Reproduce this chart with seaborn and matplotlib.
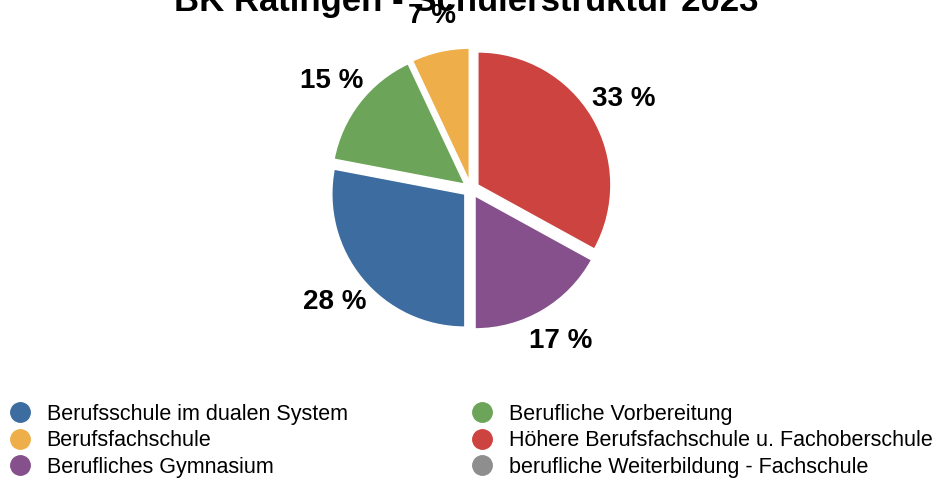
import matplotlib
matplotlib.use("Agg")
import matplotlib.pyplot as plt
from matplotlib.lines import Line2D
import seaborn as sns

# legend order (two columns, column-first)
categories = ["Berufsschule im dualen System", "Berufsfachschule", "Berufliches Gymnasium",
              "Berufliche Vorbereitung", "Höhere Berufsfachschule u. Fachoberschule",
              "berufliche Weiterbildung - Fachschule"]
shares = [28, 7, 17, 15, 33, 0]
colors = ["#3d6da0", "#eeaf4b", "#85508c", "#6ca55a", "#cc433f", "#8e8e8e"]

# clockwise from the top, as drawn in the pie
pie_order = [4, 2, 0, 3, 1]

sns.set_theme(style="white")
plt.rcParams['font.family'] = ['Liberation Sans', 'DejaVu Sans']
plt.rcParams['text.color'] = 'black'

fig = plt.figure(figsize=(9.33, 4.82), dpi=100)

r_px = 133
cx, cy = 471, 482 - 189
size = 2.2 * r_px
ax = fig.add_axes([(cx - size / 2) / 933, (cy - size / 2) / 482, size / 933, size / 482])

vals = [shares[i] for i in pie_order if shares[i] > 0]
cols = [colors[i] for i in pie_order if shares[i] > 0]

wedges, texts, autotexts = ax.pie(vals, colors=cols, startangle=90, counterclock=False,
                                  explode=[0.06] * len(vals), autopct=lambda p: f"{p:.0f} %",
                                  pctdistance=1.27, radius=1,
                                  textprops=dict(fontsize=20, fontweight='bold', color='black'))
ax.set_xlim(-1.1, 1.1)
ax.set_ylim(-1.1, 1.1)
ax.set_aspect('equal')
ax.axis('off')

fig.text(0.5, 1 - 11 / 482, "BK Ratingen - Schülerstruktur 2023", ha='center', va='baseline',
         fontsize=25, fontweight='bold', color='black')

handles = [Line2D([], [], marker='o', linestyle='', markersize=14, markerfacecolor=c,
                  markeredgecolor=c) for c in colors]
fig.legend(handles, categories, loc='upper left', bbox_to_anchor=(9 / 933, 1 - 404 / 482),
           ncol=2, frameon=False, fontsize=15.5, handlelength=1, handletextpad=0.75,
           columnspacing=5.75, labelspacing=0.25, borderpad=0, borderaxespad=0,
           labelcolor='black')

fig.savefig("out.png", dpi=100)
